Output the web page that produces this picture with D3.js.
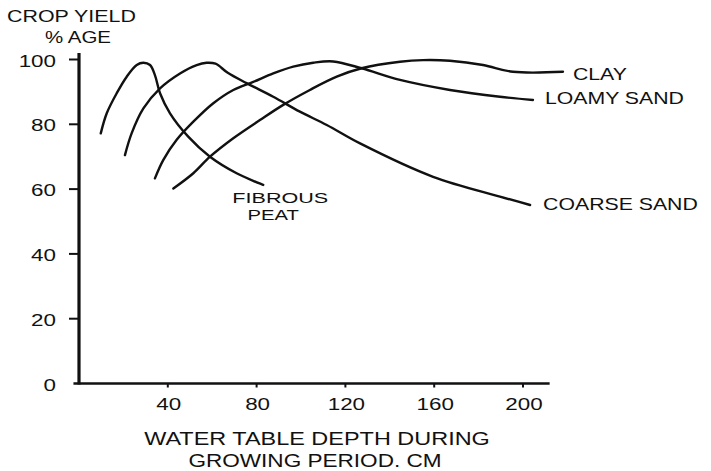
<!DOCTYPE html>
<html>
<head>
<meta charset="utf-8">
<script src="https://cdn.jsdelivr.net/npm/d3@7"></script>
<style>
  html, body { margin: 0; padding: 0; background: #fff; }
  svg { display: block; }
  text { font-family: "Liberation Sans", Arial, Helvetica, sans-serif; fill: #111; }
</style>
</head>
<body>
<svg id="chart" width="711" height="471"></svg>
<script>
// Crop yield (% of maximum) against water table depth (cm) for four soils
const fibrousPeatDepth = [9.8, 12.5, 17, 21.5, 26, 29, 32, 34.2, 36.5, 41, 49.2, 59, 71, 83];
const fibrousPeatYield = [77.2, 83.4, 89.6, 94.7, 98.3, 99, 98.3, 95.2, 89.6, 83.4, 76.2, 70, 64.9, 61.3];

const coarseSandDepth = [20.7, 23.7, 29, 36.5, 45.5, 53, 57.5, 61.5, 67, 75.5, 87.5, 99.5, 111.6, 126.6, 159.5, 189.6, 203.2];
const coarseSandYield = [70.5, 77.2, 84.9, 91.1, 95.7, 98.3, 99, 98.7, 95.9, 92.7, 88.5, 83.9, 79.8, 74.1, 63.8, 57.7, 55.1];

const loamySandDepth = [34.2, 38, 44, 51.5, 60.5, 69.5, 78.5, 87.5, 96.5, 105.5, 114.5, 127.3, 144.6, 167.1, 189.6, 204.5];
const loamySandYield = [63.3, 69, 75.2, 80.8, 86.5, 90.6, 93.1, 95.7, 97.8, 99, 99.4, 97.3, 93.7, 90.6, 88.5, 87.5];

const clayDepth = [42.5, 51.5, 59, 69.5, 81.5, 92, 104, 116.1, 127.3, 144.6, 155, 167.1, 182, 195.5, 218];
const clayYield = [60.2, 64.9, 70, 75.7, 81.3, 86, 90.6, 94.7, 97.3, 99.3, 99.8, 99.6, 98.3, 96.2, 96.2];

const xTicks = [40, 80, 120, 160, 200];
const yTicks = [0, 20, 40, 60, 80, 100];

const yTitle = ["CROP YIELD", "% AGE"];
const xTitle = ["WATER TABLE DEPTH DURING", "GROWING PERIOD. CM"];

const series = [
  { name: ["FIBROUS", "PEAT"], depth: fibrousPeatDepth, yield: fibrousPeatYield, label: "below" },
  { name: ["COARSE SAND"], depth: coarseSandDepth, yield: coarseSandYield, label: "end", dx: 13, dy: 5 },
  { name: ["LOAMY SAND"], depth: loamySandDepth, yield: loamySandYield, label: "end", dx: 12, dy: 4 },
  { name: ["CLAY"], depth: clayDepth, yield: clayYield, label: "end", dx: 10, dy: 8 }
];

const svg = d3.select("#chart");

const x = d3.scaleLinear().domain([0, 200]).range([79, 523]);
const y = d3.scaleLinear().domain([0, 100]).range([383.5, 59.5]);

// Text helper: wide lettering drawn by stretching horizontally
function wideText(sel, str, px, py, size, sx, anchor) {
  return sel.append("text")
    .attr("transform", `translate(${px},${py}) scale(${sx},1)`)
    .attr("text-anchor", anchor || "start")
    .style("font-size", size + "px")
    .text(str);
}

// Axis lines
svg.append("line")
  .attr("x1", x(0)).attr("x2", x(0))
  .attr("y1", y(0) + 1).attr("y2", y(102))
  .attr("stroke", "#111").attr("stroke-width", 3.2);
svg.append("line")
  .attr("x1", x(-2.5)).attr("x2", x(212))
  .attr("y1", y(0)).attr("y2", y(0))
  .attr("stroke", "#111").attr("stroke-width", 2.6);

// Y ticks and labels
const gy = svg.append("g");
yTicks.forEach(t => {
  if (t > 0) {
    gy.append("line")
      .attr("x1", x(0) - 10).attr("x2", x(0))
      .attr("y1", y(t)).attr("y2", y(t))
      .attr("stroke", "#111").attr("stroke-width", 2);
  }
  wideText(gy, String(t), 56, y(t) + 7, 16, 1.4, "end");
});

// X ticks and labels
const gx = svg.append("g");
xTicks.forEach(t => {
  gx.append("line")
    .attr("x1", x(t)).attr("x2", x(t))
    .attr("y1", y(0)).attr("y2", y(0) + 4)
    .attr("stroke", "#111").attr("stroke-width", 2);
  wideText(gx, String(t), x(t) + 1, 410, 16, 1.4, "middle");
});

// Axis titles
wideText(svg, yTitle[0], 7, 22, 17, 1.26);
wideText(svg, yTitle[1], 45, 43, 16, 1.28);
wideText(svg, xTitle[0], 317, 445, 17.5, 1.34, "middle");
wideText(svg, xTitle[1], 315, 467, 17.5, 1.29, "middle");

// Curves
const line = d3.line()
  .x(d => x(d[0]))
  .y(d => y(d[1]))
  .curve(d3.curveCatmullRom.alpha(0.5));

series.forEach(s => {
  const pts = s.depth.map((d, i) => [d, s.yield[i]]);
  svg.append("path")
    .datum(pts)
    .attr("d", line)
    .attr("fill", "none")
    .attr("stroke", "#111")
    .attr("stroke-width", 2.4)
    .attr("stroke-linecap", "round");

  const last = pts[pts.length - 1];
  if (s.label === "end") {
    wideText(svg, s.name[0], x(last[0]) + s.dx, y(last[1]) + s.dy, 17, 1.25);
  } else {
    wideText(svg, s.name[0], x(last[0]) + 17, y(last[1]) + 18.5, 15, 1.44, "middle");
    wideText(svg, s.name[1], x(last[0]) + 10, y(last[1]) + 35.5, 15, 1.35, "middle");
  }
});
</script>
</body>
</html>
